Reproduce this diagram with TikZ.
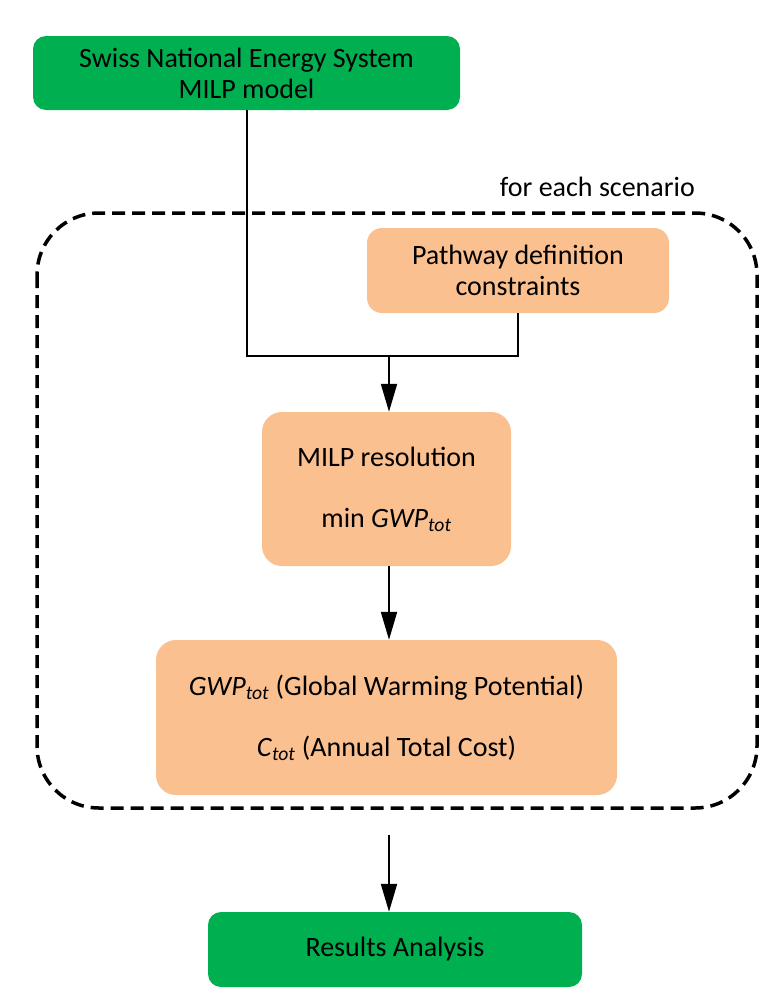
\documentclass[tikz,border=0pt]{standalone}
\usepackage{fontspec}
\setmainfont{Carlito}
\usetikzlibrary{arrows.meta}
\definecolor{boxgreen}{HTML}{00B050}
\definecolor{boxorange}{HTML}{FAC090}
\begin{document}
\begin{tikzpicture}[x=1pt,y=-1pt,
  every node/.style={font=\fontsize{28}{31}\selectfont, align=center, inner sep=0pt},
  greenbox/.style={fill=boxgreen, rounded corners=13pt},
  orangebox/.style={fill=boxorange, rounded corners=20pt},
  conn/.style={line width=2pt},
  arr/.style={line width=2pt, -{Triangle[width=16pt,length=28pt]}},
  scen/.style={line width=3.5pt, dash pattern=on 13pt off 7pt, rounded corners=62pt}]
\useasboundingbox (0,0) rectangle (764,1007);
\fill[white] (0,0) rectangle (764,1007);
% dashed scenario frame
\draw[scen] (37,213) rectangle (757,808);
\node[anchor=base east] (lbl) at (695,196) {for each scenario};
% nodes
\node[greenbox, minimum width=427pt, minimum height=74pt] (model) at (246.5,73) {Swiss National Energy System\\MILP model};
\node[orangebox, minimum width=302pt, minimum height=85pt, rounded corners=15pt] (path) at (518,270.5) {Pathway definition\\constraints};
\node[orangebox, minimum width=249pt, minimum height=154pt] (milp) at (386.5,489) {MILP resolution\\[30pt]min \textit{GWP}\textsubscript{\textit{tot}}};
\node[orangebox, minimum width=461pt, minimum height=155pt] (res) at (386.5,717.5) {\textit{GWP}\textsubscript{\textit{tot}} (Global Warming Potential)\\[30pt]\textit{C}\textsubscript{\textit{tot}} (Annual Total Cost)};
\node[greenbox, minimum width=374pt, minimum height=75pt] (ana) at (395,949.5) {Results Analysis};
% connectors
\coordinate (join) at (389,356);
\coordinate (out) at (389,835);
\draw[conn] (model.south) |- (join) -| (path.south);
\draw[arr] (join) -- (milp.north -| join);
\draw[arr] (milp.south -| join) -- (res.north -| join);
\draw[arr] (out) -- (ana.north -| out);
\end{tikzpicture}
\end{document}
